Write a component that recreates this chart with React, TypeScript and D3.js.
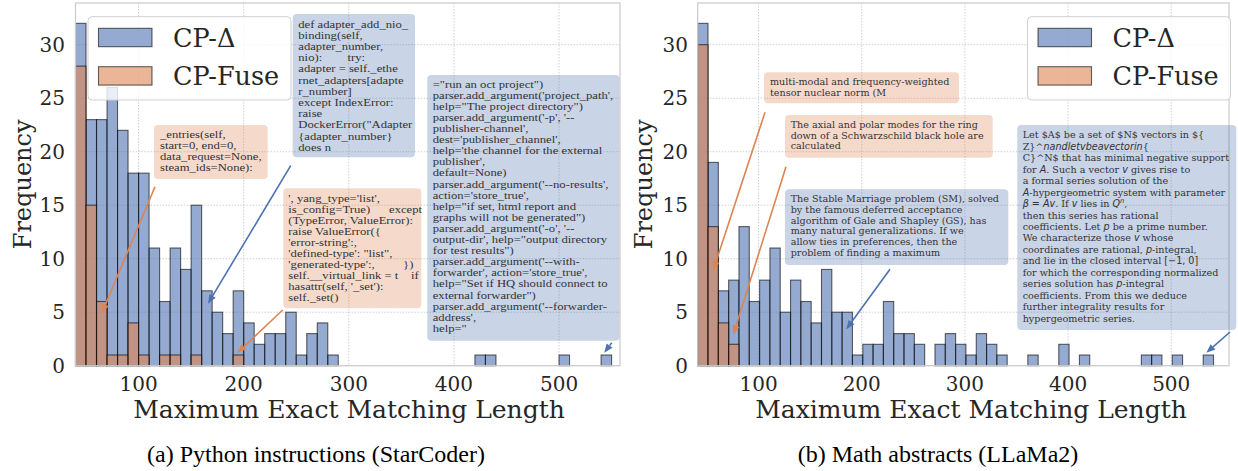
import React from "react";
import * as d3 from "d3";

// ---------- data ----------
const BIN_WIDTH = 10;
const leftBinStart = 40;
const rightBinStart = 41;

// counts per bin (bin i covers [start + 10 i, start + 10 (i+1)))
const leftDelta = [32, 23, 23, 26, 22, 18, 18, 11, 6, 11, 9, 15, 7, 5, 3, 7, 4, 2, 3, 3, 5, 1, 3, 4, 1,
  0, 0, 0, 0, 0, 0, 0, 0, 0, 0, 0, 0, 0, 1, 1, 0, 0, 0, 0, 0, 0, 1, 0, 0, 0, 1];
const leftFuse = [28, 15, 6, 1, 1, 4, 1, 0, 1, 1, 0, 1, 0, 0, 0, 1];

const rightDelta = [32, 19, 7, 8, 13, 6, 8, 11, 5, 8, 6, 4, 9, 5, 5, 1, 2, 2, 6, 3, 3, 2, 0, 2, 3, 2, 1, 3, 2, 1,
  0, 0, 1, 0, 0, 2, 0, 1, 0, 0, 0, 0, 0, 1, 1, 0, 1, 0, 0, 1];
const rightFuse = [30, 13, 4, 2];

const xTicks = [100, 200, 300, 400, 500];
const yTicks = [0, 5, 10, 15, 20, 25, 30];
const seriesNames = ["CP-Δ", "CP-Fuse"];
const captions = ["(a) Python instructions (StarCoder)", "(b) Math abstracts (LLaMa2)"];
const xLabel = "Maximum Exact Matching Length";
const yLabel = "Frequency";

// annotation texts
const noteA1 = [
  "def adapter_add_nio_",
  "binding(self,",
  "adapter_number,",
  "nio):        try:",
  "adapter = self._ethe",
  "rnet_adapters[adapte",
  "r_number]",
  "except IndexError:",
  "raise",
  "DockerError(\"Adapter",
  "{adapter_number}",
  "does n",
];
const noteA2 = [
  "_entries(self,",
  "start=0, end=0,",
  "data_request=None,",
  "steam_ids=None):",
];
const noteA3 = [
  "', yang_type='list',",
  "is_config=True)      except",
  "(TypeError, ValueError):",
  "raise ValueError({",
  "'error-string':,",
  "'defined-type': \"list\",",
  "'generated-type':,         })",
  "self.__virtual_link = t    if",
  "hasattr(self, '_set'):",
  "self._set()",
];
const noteA4 = [
  "=\"run an oct project\")",
  "parser.add_argument('project_path',",
  "help=\"The project directory\")",
  "parser.add_argument('-p', '--",
  "publisher-channel',",
  "dest='publisher_channel',",
  "help='the channel for the external",
  "publisher',",
  "default=None)",
  "parser.add_argument('--no-results',",
  "action='store_true',",
  "help=\"if set, html report and",
  "graphs will not be generated\")",
  "parser.add_argument('-o', '--",
  "output-dir', help=\"output directory",
  "for test results\")",
  "parser.add_argument('--with-",
  "forwarder', action='store_true',",
  "help=\"Set if HQ should connect to",
  "external forwarder\")",
  "parser.add_argument('--forwarder-",
  "address',",
  "help=\"",
];
const noteB1 = ["multi-modal and frequency-weighted", "tensor nuclear norm (M"];
const noteB2 = [
  "The axial and polar modes for the ring",
  "down of a Schwarzschild black hole are",
  "calculated",
];
const noteB3 = [
  "The Stable Marriage problem (SM), solved",
  "by the famous deferred acceptance",
  "algorithm of Gale and Shapley (GS), has",
  "many natural generalizations. If we",
  "allow ties in preferences, then the",
  "problem of finding a maximum",
];
// segments: [text, kind] kind: "" serif, "i" math italic, "m" math upright, "sup" superscript italic
const noteB4: [string, string][][] = [
  [["Let $A$ be a set of $N$ vectors in ${", ""]],
  [["Z}^", ""], ["nandletvbeavectorin", "i"], ["{", ""]],
  [["C}^N$ that has minimal negative support", ""]],
  [["for ", ""], ["A", "i"], [". Such a vector ", ""], ["v", "i"], [" gives rise to", ""]],
  [["a formal series solution of the", ""]],
  [["A", "i"], ["-hypergeometric system with parameter", ""]],
  [["β", "i"], [" = ", "m"], ["Av", "i"], [". If ", ""], ["v", "i"], [" lies in ", ""], ["Q", "i"], ["n", "sup"], [",", ""]],
  [["then this series has rational", ""]],
  [["coefficients. Let ", ""], ["p", "i"], [" be a prime number.", ""]],
  [["We characterize those ", ""], ["v", "i"], [" whose", ""]],
  [["coordinates are rational, ", ""], ["p", "i"], ["-integral,", ""]],
  [["and lie in the closed interval ", ""], ["[−1, 0]", "m"]],
  [["for which the corresponding normalized", ""]],
  [["series solution has ", ""], ["p", "i"], ["-integral", ""]],
  [["coefficients. From this we deduce", ""]],
  [["further integrality results for", ""]],
  [["hypergeometric series.", ""]],
];

// ---------- style ----------
const C0 = "#4c72b0";
const C1 = "#dd8452";
const TXT = "#262626";
const SERIF = "'DejaVu Serif', serif";
const TIMES = "'Liberation Serif', 'Times New Roman', serif";
const MATH = "'DejaVu Sans', sans-serif";

type Panel = {
  x0: number; x1: number; dom: [number, number]; start: number;
  delta: number[]; fuse: number[]; ylabX: number; tickX: number; caption: string; capX: number; xlabX: number;
  legendX: number;
};

const TOP = 3;
const BOTTOM = 365.7;
const yScale = d3.scaleLinear().domain([0, 33.9]).range([BOTTOM, TOP]);

const panels: Panel[] = [
  { x0: 75.5, x1: 620, dom: [40, 558], start: leftBinStart, delta: leftDelta, fuse: leftFuse, ylabX: 23, tickX: 65, caption: captions[0], capX: 316, xlabX: 349, legendX: 88 },
  { x0: 697.7, x1: 1229, dom: [41, 556], start: rightBinStart, delta: rightDelta, fuse: rightFuse, ylabX: 644, tickX: 688, caption: captions[1], capX: 938, xlabX: 971, legendX: 1027.5 },
];

function Bars({ p, counts, color }: { p: Panel; counts: number[]; color: string }) {
  const xs = d3.scaleLinear().domain(p.dom).range([p.x0, p.x1]);
  return (
    <g>
      {counts.map((c, i) => {
        if (!c) return null;
        const a = p.start + i * BIN_WIDTH;
        const x = xs(a);
        const w = xs(a + BIN_WIDTH) - x;
        return (
          <rect key={i} x={x} y={yScale(c)} width={w} height={yScale(0) - yScale(c)}
            fill={color} fillOpacity={0.6} stroke="#000" strokeOpacity={0.6} strokeWidth={1.1} />
        );
      })}
    </g>
  );
}

function Axes({ p }: { p: Panel }) {
  const xs = d3.scaleLinear().domain(p.dom).range([p.x0, p.x1]);
  return (
    <g>
      {xTicks.map((t) => (
        <line key={"gx" + t} x1={xs(t)} x2={xs(t)} y1={TOP} y2={BOTTOM} stroke="#c4c4c4" strokeWidth={0.8} strokeDasharray="1.5 1.5" />
      ))}
      {yTicks.map((t) => (
        <line key={"gy" + t} x1={p.x0} x2={p.x1} y1={yScale(t)} y2={yScale(t)} stroke="#c4c4c4" strokeWidth={0.8} strokeDasharray="1.5 1.5" />
      ))}
    </g>
  );
}

function Frame({ p }: { p: Panel }) {
  const xs = d3.scaleLinear().domain(p.dom).range([p.x0, p.x1]);
  return (
    <g>
      <rect x={p.x0} y={TOP} width={p.x1 - p.x0} height={BOTTOM - TOP} fill="none" stroke="#cccccc" strokeWidth={1.25} />
      {yTicks.map((t) => (
        <text key={"ty" + t} x={p.tickX} y={yScale(t) + 7} textAnchor="end" fontFamily={SERIF} fontSize={20} fill={TXT}>{t}</text>
      ))}
      {xTicks.map((t) => (
        <text key={"tx" + t} x={xs(t)} y={391} textAnchor="middle" fontFamily={SERIF} fontSize={20} fill={TXT}>{t}</text>
      ))}
      <text x={p.xlabX} y={418} textAnchor="middle" fontFamily={SERIF} fontSize={25} fill={TXT}>{xLabel}</text>
      <text transform={`translate(${p.ylabX + 8},${(TOP + BOTTOM) / 2}) rotate(-90)`} textAnchor="middle" fontFamily={SERIF} fontSize={24} fill={TXT}>{yLabel}</text>
      <text x={p.capX} y={462} textAnchor="middle" fontFamily={TIMES} fontSize={24} fill="#000">{p.caption}</text>
    </g>
  );
}

function Legend({ x }: { x: number }) {
  return (
    <g>
      <rect x={x} y={16.7} width={203} height={83.3} rx={4} fill="#fff" fillOpacity={0.8} stroke="#d0d0d0" strokeWidth={1} />
      <rect x={x + 10.5} y={28.3} width={53.5} height={18.4} fill={C0} fillOpacity={0.6} stroke="#000" strokeOpacity={0.6} strokeWidth={1.1} />
      <rect x={x + 10.5} y={66.7} width={53.5} height={18.4} fill={C1} fillOpacity={0.6} stroke="#000" strokeOpacity={0.6} strokeWidth={1.1} />
      <text x={x + 85} y={46.7} fontFamily={SERIF} fontSize={25.5} fill={TXT}>{seriesNames[0]}</text>
      <text x={x + 85} y={85} fontFamily={SERIF} fontSize={25.5} fill={TXT}>{seriesNames[1]}</text>
    </g>
  );
}

type Note = {
  lines: string[]; color: string; box: [number, number, number, number];
  tx: number; ty: number; lh: number; font: string; fs: number; sx: number;
};

function NoteBox({ n }: { n: Note }) {
  const [x, y, w, h] = n.box;
  return (
    <g>
      <rect x={x} y={y} width={w} height={h} rx={4} fill={n.color} fillOpacity={0.3} />
      <g transform={`translate(${n.tx},0) scale(${n.sx},1)`}>
        {n.lines.map((l, i) => (
          <text key={i} x={0} y={n.ty + i * n.lh} fontFamily={n.font} fontSize={n.fs} fill="#333" style={{ whiteSpace: "pre" }}>{l}</text>
        ))}
      </g>
    </g>
  );
}

function Arrow({ from, to, color }: { from: [number, number]; to: [number, number]; color: string }) {
  const [x1, y1] = from;
  const [x2, y2] = to;
  const ang = Math.atan2(y2 - y1, x2 - x1);
  const L = 9, Wd = 3.6;
  const bx = x2 - L * Math.cos(ang), by = y2 - L * Math.sin(ang);
  const px = -Math.sin(ang) * Wd, py = Math.cos(ang) * Wd;
  return (
    <g>
      <line x1={x1} y1={y1} x2={bx} y2={by} stroke={color} strokeWidth={1.6} />
      <path d={`M${x2},${y2}L${bx + px},${by + py}L${bx - px},${by - py}Z`} fill={color} />
    </g>
  );
}

export default function App() {
  const L = panels[0], R = panels[1];
  const lx = d3.scaleLinear().domain(L.dom).range([L.x0, L.x1]);
  const rx = d3.scaleLinear().domain(R.dom).range([R.x0, R.x1]);
  const leftFontSize = 11.2;
  const leftSx = 1.13;
  const rightFontSize = 9.6;
  const notesLeft: Note[] = [
    { lines: noteA1, color: C0, box: [292.7, 14, 122.3, 143.3], tx: 298.3, ty: 27.7, lh: 11.2, font: TIMES, fs: leftFontSize, sx: leftSx },
    { lines: noteA2, color: C1, box: [154, 125, 113.7, 54], tx: 160, ty: 138.3, lh: 11, font: TIMES, fs: leftFontSize, sx: leftSx },
    { lines: noteA3, color: C1, box: [283.3, 188.3, 138, 120], tx: 288.3, ty: 201.7, lh: 11, font: TIMES, fs: leftFontSize, sx: leftSx },
    { lines: noteA4, color: C0, box: [427.3, 75, 192, 265.7], tx: 432.7, ty: 87.7, lh: 11.1, font: TIMES, fs: leftFontSize, sx: leftSx },
  ];
  const notesRight: Note[] = [
    { lines: noteB1, color: C1, box: [764, 72.3, 195, 31], tx: 770, ty: 85, lh: 10.8, font: SERIF, fs: rightFontSize, sx: 1 },
    { lines: noteB2, color: C1, box: [785, 115, 207.7, 42.7], tx: 790.7, ty: 127.7, lh: 10.8, font: SERIF, fs: rightFontSize, sx: 1 },
    { lines: noteB3, color: C0, box: [785, 189.3, 223.3, 75.7], tx: 790.7, ty: 201.7, lh: 10.9, font: SERIF, fs: rightFontSize, sx: 1 },
  ];
  const b4 = { box: [1017.3, 125, 219, 205], tx: 1022.7, ty: 138.3, lh: 11.46 };

  return (
    <svg width={1238} height={471} style={{ position: "absolute", left: 0, top: 0, background: "#fff" }}>
      <rect x={0} y={0} width={1238} height={471} fill="#fff" />
      {panels.map((p, i) => (
        <g key={i}>
          <Axes p={p} />
          <Bars p={p} counts={p.delta} color={C0} />
          <Bars p={p} counts={p.fuse} color={C1} />
          <Frame p={p} />
          <Legend x={p.legendX} />
        </g>
      ))}
      {notesLeft.map((n, i) => <NoteBox key={"nl" + i} n={n} />)}
      {notesRight.map((n, i) => <NoteBox key={"nr" + i} n={n} />)}
      <g>
        <rect x={b4.box[0]} y={b4.box[1]} width={b4.box[2]} height={b4.box[3]} rx={4} fill={C0} fillOpacity={0.3} />
        {noteB4.map((segs, i) => (
          <text key={i} x={b4.tx} y={b4.ty + i * b4.lh} fontFamily={SERIF} fontSize={rightFontSize} fill="#333" style={{ whiteSpace: "pre" }}>
            {segs.map(([s, k], j) => {
              if (k === "i") return <tspan key={j} fontFamily={MATH} fontStyle="italic">{s}</tspan>;
              if (k === "m") return <tspan key={j} fontFamily={MATH}>{s}</tspan>;
              if (k === "sup") return <tspan key={j} fontFamily={MATH} fontStyle="italic" fontSize={rightFontSize * 0.7} dy={-4}>{s}</tspan>;
              const prevSup = j > 0 && segs[j - 1][1] === "sup";
              return <tspan key={j} dy={prevSup ? 4 : undefined}>{s}</tspan>;
            })}
          </text>
        ))}
      </g>
      {/* arrows */}
      <Arrow from={[290.7, 165.7]} to={[lx(166), yScale(5.8)]} color={C0} />
      <Arrow from={[155, 186.7]} to={[lx(65), yScale(4.9)]} color={C1} />
      <Arrow from={[282.7, 310]} to={[lx(194), yScale(1.2)]} color={C1} />
      <Arrow from={[611.7, 342.7]} to={[lx(543), yScale(1.2)]} color={C0} />
      <Arrow from={[765, 112.3]} to={[rx(56), yScale(8.9)]} color={C1} />
      <Arrow from={[786, 166.7]} to={[rx(75.5), yScale(2.9)]} color={C1} />
      <Arrow from={[890, 269.3]} to={[rx(185), yScale(3.4)]} color={C0} />
      <Arrow from={[1230, 332]} to={[rx(534), yScale(1.2)]} color={C0} />
    </svg>
  );
}
